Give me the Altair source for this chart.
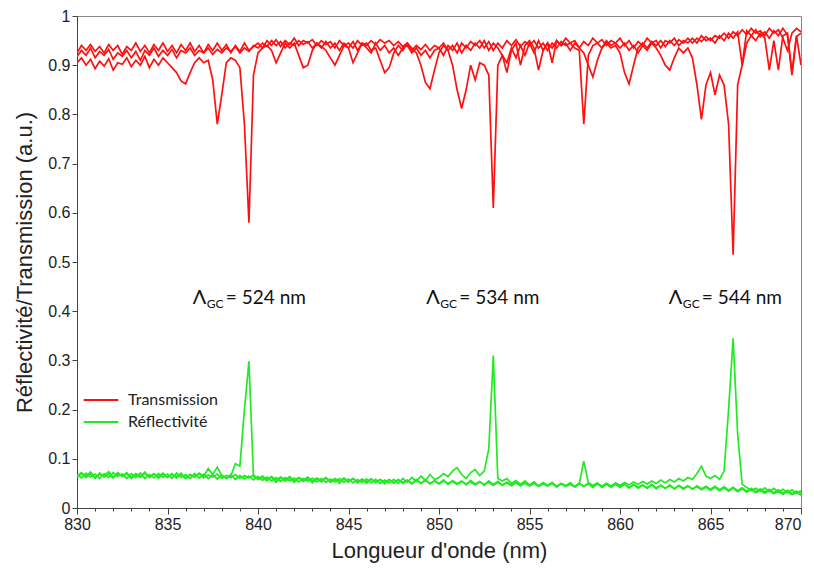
import altair as alt
import pandas as pd

# wavelength grid (nm), 0.25 nm steps from 830 to 870
WAVELENGTH = [round(830 + 0.25 * i, 2) for i in range(161)]

# ---- Transmission curves ----
T_524 = [
    0.905, 0.915, 0.900, 0.912, 0.893, 0.908, 0.898, 0.913, 0.890, 0.905, 0.902, 0.915, 0.897, 0.910, 0.900, 0.918, 0.895, 0.912, 0.900, 0.915,
    0.905, 0.895, 0.885, 0.868, 0.862, 0.885, 0.905, 0.915, 0.905, 0.910, 0.870, 0.780, 0.840, 0.905, 0.915, 0.910, 0.895, 0.780, 0.580, 0.880,
    0.925, 0.935, 0.940, 0.930, 0.905, 0.925, 0.945, 0.935, 0.945, 0.920, 0.895, 0.900, 0.930, 0.945, 0.935, 0.948, 0.935, 0.945, 0.930, 0.945,
    0.935, 0.948, 0.930, 0.945, 0.935, 0.925, 0.945, 0.930, 0.940, 0.925, 0.935, 0.920, 0.935, 0.940, 0.925, 0.935, 0.920, 0.930, 0.915, 0.930,
    0.935, 0.920, 0.940, 0.930, 0.945, 0.925, 0.940, 0.930, 0.945, 0.935, 0.950, 0.930, 0.945, 0.935, 0.920, 0.885, 0.930, 0.945, 0.900, 0.940,
    0.950, 0.935, 0.890, 0.930, 0.945, 0.905, 0.950, 0.940, 0.955, 0.945, 0.950, 0.935, 0.948, 0.940, 0.955, 0.945, 0.952, 0.940, 0.950, 0.945,
    0.955, 0.940, 0.950, 0.935, 0.948, 0.940, 0.955, 0.945, 0.950, 0.935, 0.950, 0.945, 0.955, 0.940, 0.950, 0.945, 0.955, 0.945, 0.960, 0.950,
    0.955, 0.945, 0.960, 0.950, 0.965, 0.955, 0.968, 0.900, 0.970, 0.960, 0.972, 0.958, 0.968, 0.955, 0.970, 0.960, 0.975, 0.962, 0.880, 0.958, 0.965,
]
T_534 = [
    0.925, 0.940, 0.930, 0.942, 0.928, 0.938, 0.925, 0.942, 0.930, 0.940, 0.922, 0.938, 0.930, 0.945, 0.928, 0.940, 0.925, 0.942, 0.930, 0.945,
    0.928, 0.940, 0.925, 0.942, 0.930, 0.945, 0.928, 0.940, 0.925, 0.942, 0.930, 0.945, 0.930, 0.942, 0.925, 0.940, 0.928, 0.945, 0.930, 0.938,
    0.945, 0.935, 0.950, 0.940, 0.952, 0.938, 0.950, 0.942, 0.955, 0.940, 0.950, 0.945, 0.952, 0.940, 0.950, 0.942, 0.948, 0.935, 0.950, 0.940,
    0.945, 0.935, 0.950, 0.940, 0.945, 0.930, 0.935, 0.910, 0.885, 0.895, 0.925, 0.940, 0.930, 0.945, 0.935, 0.925, 0.900, 0.865, 0.852, 0.890,
    0.925, 0.940, 0.930, 0.900, 0.850, 0.812, 0.850, 0.900, 0.870, 0.905, 0.900, 0.880, 0.610, 0.900, 0.920, 0.905, 0.935, 0.915, 0.940, 0.920,
    0.945, 0.925, 0.950, 0.930, 0.945, 0.935, 0.950, 0.940, 0.945, 0.930, 0.945, 0.935, 0.925, 0.900, 0.876, 0.910, 0.935, 0.945, 0.935, 0.940,
    0.925, 0.885, 0.862, 0.900, 0.935, 0.945, 0.935, 0.948, 0.940, 0.950, 0.938, 0.950, 0.940, 0.952, 0.945, 0.955, 0.945, 0.955, 0.948, 0.958,
    0.950, 0.960, 0.955, 0.965, 0.955, 0.968, 0.960, 0.972, 0.962, 0.975, 0.965, 0.970, 0.960, 0.975, 0.965, 0.972, 0.955, 0.930, 0.965, 0.975, 0.968,
]
T_544 = [
    0.918, 0.930, 0.920, 0.935, 0.915, 0.928, 0.920, 0.932, 0.912, 0.925, 0.918, 0.930, 0.915, 0.928, 0.910, 0.930, 0.920, 0.935, 0.918, 0.930,
    0.920, 0.932, 0.915, 0.930, 0.925, 0.935, 0.920, 0.930, 0.925, 0.935, 0.922, 0.932, 0.925, 0.935, 0.928, 0.938, 0.925, 0.935, 0.928, 0.940,
    0.935, 0.945, 0.938, 0.950, 0.940, 0.948, 0.935, 0.945, 0.940, 0.950, 0.942, 0.948, 0.935, 0.945, 0.938, 0.930, 0.915, 0.900, 0.920, 0.940,
    0.935, 0.905, 0.925, 0.945, 0.940, 0.950, 0.942, 0.952, 0.945, 0.950, 0.940, 0.948, 0.938, 0.945, 0.930, 0.940, 0.932, 0.942, 0.930, 0.940,
    0.935, 0.945, 0.930, 0.940, 0.925, 0.945, 0.935, 0.948, 0.940, 0.950, 0.935, 0.948, 0.930, 0.945, 0.935, 0.950, 0.940, 0.952, 0.938, 0.948,
    0.940, 0.950, 0.935, 0.945, 0.930, 0.945, 0.935, 0.948, 0.940, 0.945, 0.935, 0.930, 0.780, 0.920, 0.940, 0.945, 0.935, 0.950, 0.940, 0.945,
    0.935, 0.945, 0.930, 0.940, 0.925, 0.940, 0.930, 0.945, 0.935, 0.920, 0.900, 0.890, 0.915, 0.935, 0.925, 0.935, 0.915, 0.860, 0.790, 0.860,
    0.885, 0.840, 0.880, 0.860, 0.780, 0.515, 0.860, 0.900, 0.945, 0.960, 0.950, 0.965, 0.955, 0.890, 0.950, 0.890, 0.960, 0.965, 0.885, 0.960, 0.900,
]

# ---- Reflectivity curves ----
R_524 = [
    0.065, 0.072, 0.062, 0.070, 0.060, 0.071, 0.063, 0.069, 0.061, 0.072, 0.064, 0.070, 0.060, 0.068, 0.062, 0.071, 0.063, 0.070, 0.061, 0.069,
    0.062, 0.070, 0.061, 0.069, 0.060, 0.068, 0.062, 0.071, 0.064, 0.080, 0.068, 0.083, 0.066, 0.060, 0.065, 0.090, 0.085, 0.200, 0.298, 0.065,
    0.058, 0.062, 0.055, 0.063, 0.052, 0.062, 0.055, 0.060, 0.052, 0.061, 0.054, 0.060, 0.051, 0.059, 0.053, 0.061, 0.052, 0.058, 0.050, 0.059,
    0.052, 0.060, 0.051, 0.058, 0.050, 0.059, 0.052, 0.058, 0.049, 0.057, 0.051, 0.058, 0.050, 0.056, 0.049, 0.058, 0.050, 0.057, 0.049, 0.056,
    0.050, 0.057, 0.048, 0.056, 0.050, 0.055, 0.047, 0.056, 0.049, 0.054, 0.046, 0.055, 0.048, 0.054, 0.046, 0.053, 0.047, 0.054, 0.045, 0.052,
    0.046, 0.052, 0.044, 0.051, 0.045, 0.052, 0.043, 0.050, 0.045, 0.051, 0.043, 0.050, 0.044, 0.050, 0.042, 0.049, 0.044, 0.050, 0.042, 0.048,
    0.043, 0.049, 0.041, 0.048, 0.042, 0.047, 0.040, 0.048, 0.041, 0.046, 0.040, 0.047, 0.039, 0.046, 0.040, 0.045, 0.038, 0.045, 0.039, 0.044,
    0.038, 0.044, 0.037, 0.043, 0.036, 0.042, 0.035, 0.041, 0.034, 0.040, 0.033, 0.039, 0.032, 0.038, 0.031, 0.037, 0.030, 0.036, 0.029, 0.034, 0.030,
]
R_534 = [
    0.068, 0.061, 0.071, 0.063, 0.069, 0.060, 0.070, 0.062, 0.072, 0.064, 0.069, 0.060, 0.070, 0.062, 0.071, 0.060, 0.068, 0.061, 0.070, 0.062,
    0.069, 0.060, 0.071, 0.062, 0.068, 0.060, 0.070, 0.061, 0.069, 0.060, 0.068, 0.059, 0.067, 0.060, 0.068, 0.058, 0.066, 0.059, 0.065, 0.057,
    0.064, 0.056, 0.063, 0.055, 0.062, 0.054, 0.062, 0.055, 0.061, 0.053, 0.060, 0.054, 0.061, 0.053, 0.060, 0.052, 0.059, 0.053, 0.060, 0.052,
    0.059, 0.051, 0.058, 0.052, 0.059, 0.051, 0.058, 0.050, 0.057, 0.051, 0.058, 0.050, 0.060, 0.052, 0.062, 0.054, 0.065, 0.056, 0.068, 0.058,
    0.062, 0.070, 0.064, 0.075, 0.082, 0.068, 0.060, 0.072, 0.078, 0.066, 0.075, 0.120, 0.310, 0.060, 0.055, 0.060, 0.050, 0.056, 0.048, 0.055,
    0.047, 0.053, 0.045, 0.052, 0.046, 0.051, 0.044, 0.050, 0.045, 0.051, 0.043, 0.050, 0.044, 0.049, 0.043, 0.050, 0.042, 0.048, 0.043, 0.049,
    0.042, 0.048, 0.041, 0.047, 0.040, 0.046, 0.041, 0.047, 0.039, 0.046, 0.040, 0.045, 0.039, 0.045, 0.038, 0.044, 0.039, 0.043, 0.037, 0.042,
    0.036, 0.042, 0.035, 0.041, 0.034, 0.040, 0.033, 0.039, 0.032, 0.038, 0.031, 0.036, 0.030, 0.035, 0.029, 0.034, 0.028, 0.033, 0.027, 0.032, 0.026,
]
R_544 = [
    0.063, 0.070, 0.065, 0.073, 0.062, 0.068, 0.066, 0.074, 0.063, 0.069, 0.065, 0.072, 0.062, 0.070, 0.064, 0.073, 0.062, 0.069, 0.064, 0.071,
    0.062, 0.069, 0.063, 0.071, 0.061, 0.068, 0.064, 0.070, 0.061, 0.067, 0.063, 0.069, 0.060, 0.066, 0.062, 0.068, 0.060, 0.066, 0.061, 0.067,
    0.059, 0.065, 0.058, 0.064, 0.057, 0.063, 0.058, 0.064, 0.056, 0.062, 0.057, 0.063, 0.055, 0.061, 0.056, 0.062, 0.054, 0.060, 0.055, 0.061,
    0.054, 0.060, 0.053, 0.059, 0.054, 0.059, 0.052, 0.058, 0.053, 0.058, 0.051, 0.057, 0.052, 0.057, 0.050, 0.056, 0.051, 0.056, 0.050, 0.055,
    0.049, 0.055, 0.050, 0.054, 0.048, 0.054, 0.049, 0.053, 0.047, 0.053, 0.048, 0.052, 0.046, 0.052, 0.047, 0.051, 0.045, 0.051, 0.046, 0.050,
    0.045, 0.050, 0.044, 0.049, 0.045, 0.050, 0.043, 0.049, 0.044, 0.048, 0.043, 0.050, 0.095, 0.052, 0.046, 0.051, 0.044, 0.050, 0.045, 0.051,
    0.046, 0.052, 0.047, 0.053, 0.048, 0.054, 0.049, 0.055, 0.050, 0.057, 0.051, 0.058, 0.053, 0.060, 0.055, 0.062, 0.058, 0.070, 0.085, 0.065,
    0.060, 0.066, 0.058, 0.075, 0.200, 0.345, 0.150, 0.048, 0.042, 0.035, 0.040, 0.034, 0.041, 0.033, 0.040, 0.032, 0.038, 0.031, 0.037, 0.030, 0.035,
]

SERIES = [
    ("Transmission", "T524", T_524),
    ("Transmission", "T534", T_534),
    ("Transmission", "T544", T_544),
    ("Réflectivité", "R524", R_524),
    ("Réflectivité", "R534", R_534),
    ("Réflectivité", "R544", R_544),
]

GROUPS = ["Transmission", "Réflectivité"]
COLORS = ["#ff1010", "#22ea22"]

X_TICKS = list(range(830, 871))
Y_TICKS = [0, 0.1, 0.2, 0.3, 0.4, 0.5, 0.6, 0.7, 0.8, 0.9, 1.0]

ANNOT_X = [836.4, 849.3, 862.7]
ANNOT_Y = [0.427, 0.427, 0.427]
ANNOT_TEXT = ["= 524 nm", "= 534 nm", "= 544 nm"]

rows = []
for group, name, vals in SERIES:
    for x, y in zip(WAVELENGTH, vals):
        rows.append({"x": x, "y": y, "group": group, "series": name})
df = pd.DataFrame(rows)

ann = pd.DataFrame({"x": ANNOT_X, "y": ANNOT_Y, "label": ANNOT_TEXT})

xscale = alt.Scale(domain=[830, 870], nice=False, zero=False)
yscale = alt.Scale(domain=[0, 1], nice=False)

x_axis = alt.Axis(
    values=X_TICKS,
    labelExpr="datum.value % 5 === 0 ? datum.label : ''",
    labelOverlap=False,
    labelFlush=False,
    labelAlign={"condition": {"test": "datum.value >= 870", "value": "right"}, "value": "center"},
    tickSize={"condition": {"test": "datum.value % 5 === 0", "value": 6}, "value": 3},
    format="d",
    titlePadding=8,
)
y_axis = alt.Axis(values=Y_TICKS, format="~g", tickSize=5, titlePadding=11, labelOverlap=False)

X_ENC = alt.X("x:Q", scale=xscale, title="Longueur d'onde (nm)", axis=x_axis)
Y_ENC = alt.Y("y:Q", scale=yscale, title="Réflectivité/Transmission (a.u.)", axis=y_axis)

lines = alt.Chart(df).mark_line(strokeWidth=1.7, clip=True).encode(
    x=X_ENC,
    y=Y_ENC,
    color=alt.Color(
        "group:N",
        scale=alt.Scale(domain=GROUPS, range=COLORS),
        legend=alt.Legend(
            title=None,
            orient="none",
            legendX=14,
            legendY=374,
            symbolType="M-2,0H2",
            symbolSize=300,
            symbolStrokeWidth=2,
            labelFont="Lato",
            labelFontSize=16,
            labelColor="#222",
            rowPadding=4,
            labelOffset=17,
        ),
    ),
    detail="series:N",
)

base_ann = alt.Chart(ann).encode(x=X_ENC, y=Y_ENC)
lam = base_ann.mark_text(align="left", baseline="middle", font="Lato", fontSize=20, color="#111").encode(
    text=alt.value("Λ")
)
sub = base_ann.mark_text(align="left", baseline="middle", font="Lato", fontSize=12, color="#111", dx=14, dy=6).encode(
    text=alt.value("GC")
)
lab = base_ann.mark_text(align="left", baseline="middle", font="Lato", fontSize=19, color="#111", dx=33).encode(
    text="label:N"
)

chart = (
    alt.layer(lines, lam, sub, lab)
    .properties(
        width=724,
        height=492,
        autosize=alt.AutoSizeParams(type="none"),
        padding={"left": 69, "top": 8, "right": 5, "bottom": 58},
    )
    .configure_view(stroke="#888", strokeWidth=1)
    .configure_axis(
        grid=False,
        domainColor="#444",
        tickColor="#444",
        labelFont="Liberation Sans",
        labelFontSize=16,
        labelColor="#222",
        titleFont="Liberation Sans",
        titleFontSize=22,
        titleFontWeight="normal",
        titleColor="#222",
        labelPadding=2,
    )
)

chart.save("out.html", embed_options={"renderer": "svg", "actions": False})
